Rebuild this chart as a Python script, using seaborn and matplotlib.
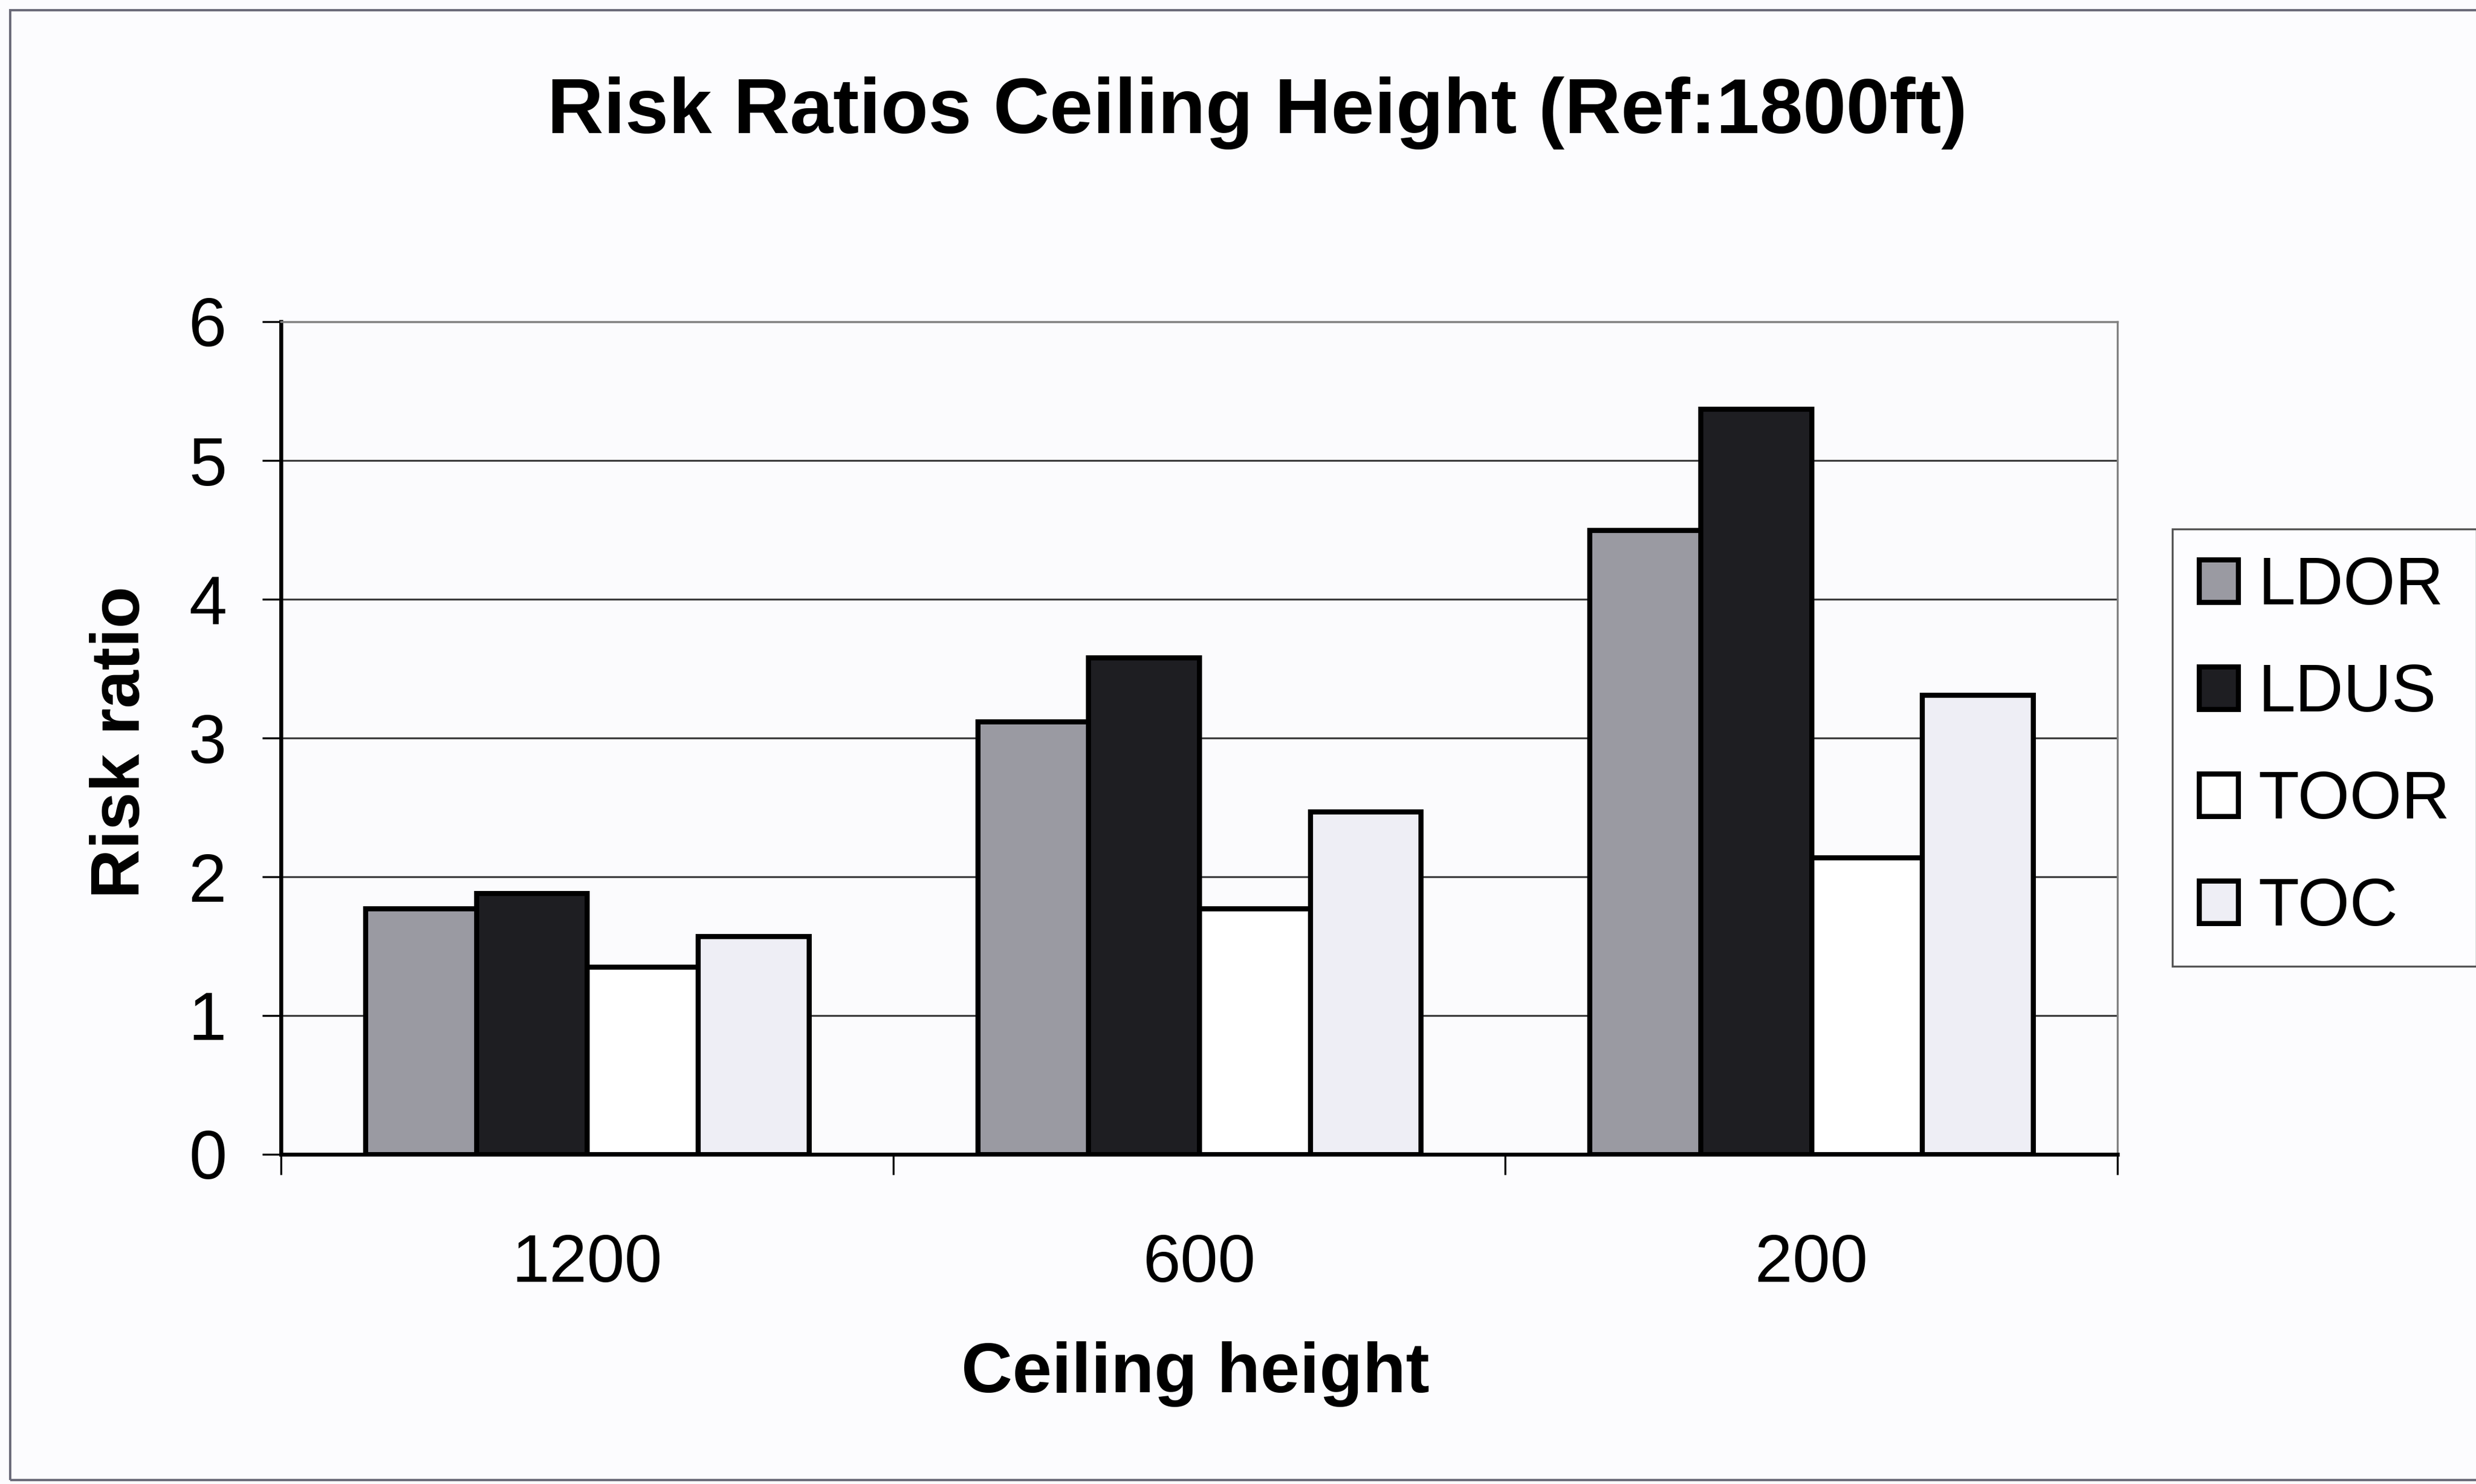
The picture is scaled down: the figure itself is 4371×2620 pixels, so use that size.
import matplotlib
matplotlib.use("Agg")
import matplotlib.pyplot as plt
from matplotlib.patches import Rectangle
import pandas as pd
import seaborn as sns

# Risk ratios by ceiling height, reference ceiling 1800 ft
ceilings = ["1200", "600", "200"]
series = ["LDOR", "LDUS", "TOOR", "TOC"]
ldor = [1.77, 3.12, 4.50]
ldus = [1.88, 3.58, 5.37]
toor = [1.35, 1.77, 2.14]
toc = [1.57, 2.47, 3.31]
yticks = [0, 1, 2, 3, 4, 5, 6]

colors = {"LDOR": "#9a9aa2", "LDUS": "#1e1e22", "TOOR": "#ffffff", "TOC": "#eeeef5"}

rows = []
for name, vals in zip(series, [ldor, ldus, toor, toc]):
    for c, v in zip(ceilings, vals):
        rows.append({"Ceiling height": c, "Series": name, "Risk ratio": v})
df = pd.DataFrame(rows)

sns.set_theme(style="white")
plt.rcParams["font.family"] = ["Liberation Sans", "DejaVu Sans"]
plt.rcParams["text.color"] = "black"
plt.rcParams["axes.labelcolor"] = "black"
plt.rcParams["xtick.color"] = "black"
plt.rcParams["ytick.color"] = "black"

W, H = 4371, 2620
fig = plt.figure(figsize=(W / 100, H / 100), dpi=100, facecolor="#fcfcfe")
ax = fig.add_axes([496 / W, 1 - 2038 / H, (3738 - 496) / W, (2038 - 568) / H])
ax.set_facecolor("#fbfbfd")

sns.barplot(data=df, x="Ceiling height", y="Risk ratio", hue="Series",
            order=ceilings, hue_order=series, palette=colors,
            width=0.724, gap=0, edgecolor="black", linewidth=6.5,
            saturation=1, ax=ax)

ax.set_ylim(0, 6)
ax.set_xlim(-0.5, 2.5)
ax.set_yticks(yticks)
ax.set_yticklabels([str(t) for t in yticks])
ax.set_axisbelow(True)
ax.yaxis.grid(True, color="#3a3a3a", linewidth=2.4)
ax.xaxis.grid(False)

# spines
for s in ["left", "bottom"]:
    ax.spines[s].set_color("black")
    ax.spines[s].set_linewidth(5)
for s in ["top", "right"]:
    ax.spines[s].set_color("#808080")
    ax.spines[s].set_linewidth(2.5)

# ticks: category labels centered, tick marks between categories
ax.tick_params(axis="x", which="major", length=0, pad=100, labelsize=86, labelcolor="black")
ax.set_xticks([-0.5, 0.5, 1.5, 2.5], minor=True)
ax.tick_params(axis="x", which="minor", length=26, width=2.5, direction="out", color="black", bottom=True)
ax.tick_params(axis="y", which="major", length=24, width=2.5, direction="out", color="black",
               pad=45, labelsize=87, labelcolor="black", left=True)

ax.set_xlabel("Ceiling height", fontsize=90, fontweight="bold", color="black")
ax.set_ylabel("Risk ratio", fontsize=87, fontweight="bold", color="black")
ax.xaxis.set_label_coords(0.498, -0.264)
ax.xaxis.label.set_va("center")
ax.yaxis.set_label_coords(-0.0867, 0.495)
ax.yaxis.label.set_va("center")

# legend
handles, labels = ax.get_legend_handles_labels()
if ax.get_legend() is not None:
    ax.get_legend().remove()
leg = ax.legend(handles, labels, loc="upper left",
                bbox_to_anchor=(3835 / W, 1 - 934 / H), bbox_transform=fig.transFigure,
                borderaxespad=0, frameon=True, fancybox=False, shadow=False,
                edgecolor="#555555", facecolor="#fdfdff", framealpha=1,
                fontsize=85, handlelength=0.58, handleheight=0.6,
                handletextpad=0.3, labelspacing=0.66, borderpad=0.4)
leg.get_frame().set_linewidth(2.5)
for h in leg.legend_handles:
    h.set_edgecolor("black")
    h.set_linewidth(6.5)
for t in leg.get_texts():
    t.set_color("black")

fig.text(0.5077, 0.9237, "Risk Ratios Ceiling Height (Ref:1800ft)",
         ha="center", va="center", fontsize=99, fontweight="bold", color="black")

# outer chart border
fig.patches.append(Rectangle((18 / W, 1 - 2613 / H), (W + 20) / W, (2613 - 18) / H,
                             transform=fig.transFigure, fill=False,
                             edgecolor="#6a6a78", linewidth=3, clip_on=False))

fig.savefig("out.png", dpi=100, facecolor=fig.get_facecolor())
